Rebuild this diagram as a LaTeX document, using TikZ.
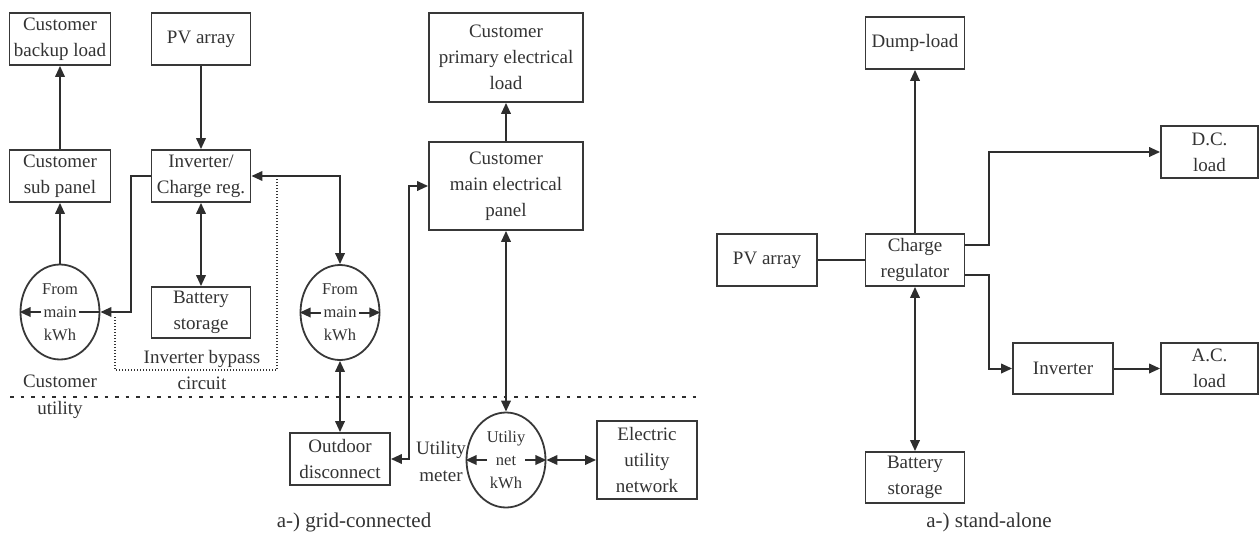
\documentclass[tikz,border=0pt]{standalone}
\usepackage{fontspec}
\setmainfont{Liberation Serif}
\usetikzlibrary{arrows.meta,shapes.geometric}
\begin{document}
\begin{tikzpicture}[x=1pt,y=-1pt,
  every node/.style={text=black!80},
  box/.style={draw=black!78, line width=1.8pt, rectangle, inner sep=0pt, align=center, font=\fontsize{19}{26}\selectfont},
  ell/.style={draw=black!78, line width=1.8pt, ellipse, inner sep=0pt, minimum width=79pt, minimum height=95pt, align=center, font=\fontsize{16.5}{23}\selectfont},
  lbl/.style={align=center, inner sep=0pt, font=\fontsize{19}{26}\selectfont},
  captext/.style={inner sep=0pt, font=\fontsize{21}{24}\selectfont},
  conn/.style={draw=black!82, line width=2pt},
  arr/.style={conn, -{Triangle[length=11pt,width=9.5pt]}},
  arrb/.style={conn, {Triangle[length=11pt,width=9.5pt]}-{Triangle[length=11pt,width=9.5pt]}},
  bypass/.style={draw=black!80, line width=1.4pt, dash pattern=on 1.4pt off 1.6pt},
  sepline/.style={draw=black!82, line width=2.4pt, dash pattern=on 3.5pt off 7pt}
]
\useasboundingbox (0,0) rectangle (1260,538);

% ---------- grid-connected ----------
\node[box, minimum width=101pt, minimum height=52pt] (backup) at (60,39) {Customer\\backup load};
\node[box, minimum width=99pt, minimum height=52pt] (pv1) at (201,39) {PV array};
\node[box, minimum width=101pt, minimum height=52pt] (sub) at (60,176) {Customer\\sub panel};
\node[box, minimum width=99pt, minimum height=52pt] (inv) at (201,176) {Inverter/\\Charge reg.};
\node[box, minimum width=99pt, minimum height=51pt] (bat1) at (201,312.5) {Battery\\storage};
\node[ell] (el1) at (60,312) {From\\main\\kWh};
\node[ell] (el2) at (340,312.5) {From\\main\\kWh};
\node[box, minimum width=100pt, minimum height=52pt] (outd) at (340,459) {Outdoor\\disconnect};
\node[box, minimum width=154pt, minimum height=89pt] (prim) at (506,57.5) {Customer\\primary electrical\\load};
\node[box, minimum width=154pt, minimum height=88pt] (mainp) at (506,186) {Customer\\main electrical\\panel};
\node[ell] (meter) at (506,460) {Utiliy\\net\\kWh};
\node[box, minimum width=100pt, minimum height=78pt] (net) at (647,460) {Electric\\utility\\network};

\node[lbl] (bypl) at (202,370) {Inverter bypass\\circuit};
\node[lbl] (cul) at (60,397) {Customer\\[1pt]utility};
\node[lbl, font=\fontsize{19}{27}\selectfont] (uml) at (441,461) {Utility\\meter};
\node[captext] (cap1) at (354,522) {a-) grid-connected};

\coordinate (sepL) at (10,397);
\coordinate (sepR) at (698,397);
\draw[sepline] (sepL) -- (sepR);

\draw[arr] (pv1.south) -- (inv.north);
\draw[arr] (sub.north) -- (backup.south);
\draw[arr] (el1.north) -- (sub.south);
\draw[arrb] (inv.south) -- (bat1.north);
\draw[arr] (inv.west) -- ++(-20,0) |- (el1.east);
\draw[arrb] (inv.east) -| (el2.north);
\draw[arrb] (el2.south) -- (outd.north);
\draw[arrb] (outd.east) -- ++(18,0) |- (mainp.west);
\draw[arr] (mainp.north) -- (prim.south);
\draw[arrb] (mainp.south) -- (meter.north);
\draw[arrb] (meter.east) -- (net.west);

% arrows inside the meters
\draw[arr] ([xshift=-19pt]el1.center) -- (el1.west);
\draw[conn] ([xshift=19pt]el1.center) -- (el1.east);
\draw[arr] ([xshift=-19pt]el2.center) -- (el2.west);
\draw[arr] ([xshift=19pt]el2.center) -- (el2.east);
\draw[arr] ([xshift=-19pt]meter.center) -- (meter.west);
\draw[arr] ([xshift=19pt]meter.center) -- (meter.east);

% inverter bypass circuit
\coordinate (bypS) at (115,317);
\coordinate (bypE) at (277,176);
\draw[bypass] (bypS) -- (115,370) -- (277,370) -- (bypE);

% ---------- stand-alone ----------
\node[box, minimum width=99pt, minimum height=52pt] (dump) at (915,43) {Dump-load};
\node[box, minimum width=100pt, minimum height=52pt] (pv2) at (767,260) {PV array};
\node[box, minimum width=99pt, minimum height=52pt] (creg) at (915,260) {Charge\\regulator};
\node[box, minimum width=97pt, minimum height=52pt] (dc) at (1209.5,152) {D.C.\\load};
\node[box, minimum width=100pt, minimum height=51pt] (inv2) at (1063,368.5) {Inverter};
\node[box, minimum width=97pt, minimum height=51pt] (ac) at (1209.5,368.5) {A.C.\\load};
\node[box, minimum width=99pt, minimum height=51pt] (bat2) at (915,477.5) {Battery\\storage};
\node[captext] (cap2) at (989,522) {a-) stand-alone};

\draw[conn] (pv2.east) -- (creg.west);
\draw[arr] (creg.north) -- (dump.south);
\draw[arr] ([yshift=15pt]creg.east) -- ++(24,0) |- (dc.west);
\draw[arr] ([yshift=-15pt]creg.east) -- ++(24,0) |- (inv2.west);
\draw[arr] (inv2.east) -- (ac.west);
\draw[arrb] (creg.south) -- (bat2.north);
\end{tikzpicture}
\end{document}
